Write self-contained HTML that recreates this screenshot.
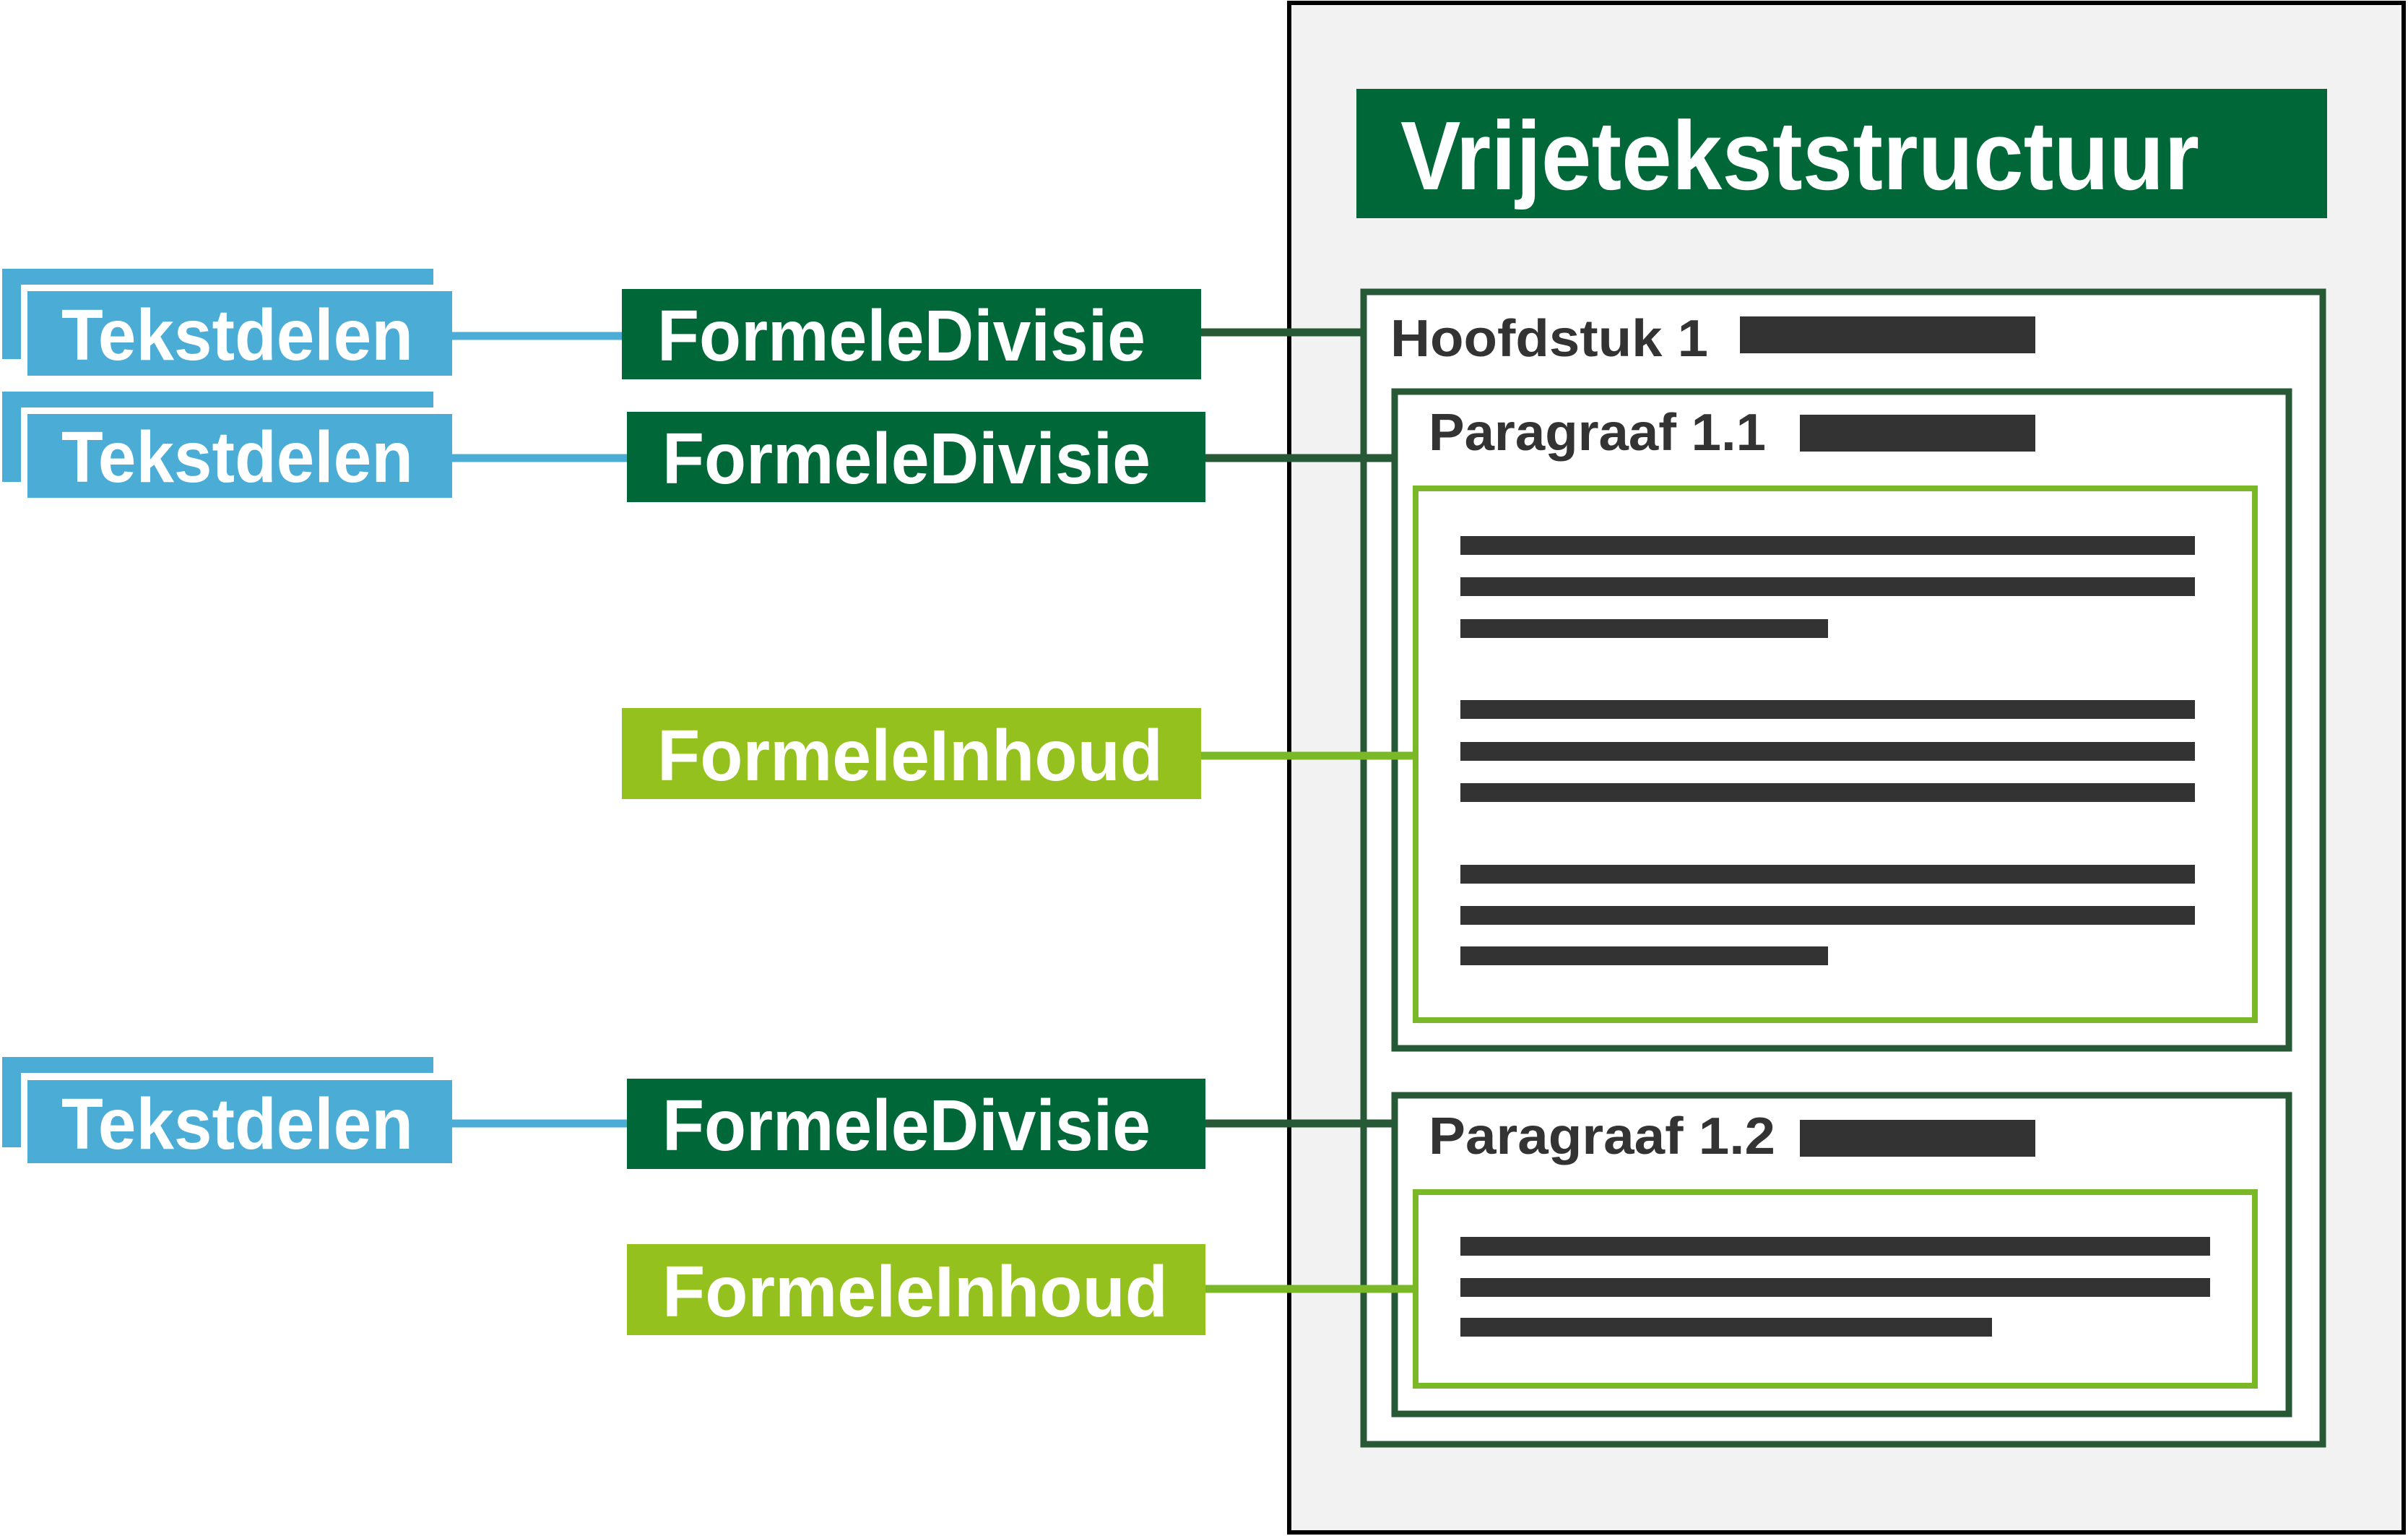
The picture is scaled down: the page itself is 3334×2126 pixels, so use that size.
<!DOCTYPE html>
<html><head><meta charset="utf-8"><style>html,body{margin:0;padding:0;background:#fff}svg{display:block}text{font-family:"Liberation Sans",sans-serif;font-weight:bold}</style></head>
<body>
<svg width="3334" height="2126" viewBox="0 0 3334 2126" xmlns="http://www.w3.org/2000/svg">
<rect x="1785" y="4" width="1543" height="2117" fill="#f2f2f2" stroke="#000" stroke-width="6"/>
<rect x="1878" y="123" width="1344" height="179" fill="#006838"/>
<text x="1939" y="262" font-size="135" fill="#fff" textLength="1106" lengthAdjust="spacingAndGlyphs">Vrijetekststructuur</text>

<rect x="1888" y="404" width="1328" height="1595" fill="#fff" stroke="#275937" stroke-width="9"/>
<text x="1925" y="493" font-size="72" fill="#333" textLength="440" lengthAdjust="spacingAndGlyphs">Hoofdstuk 1</text>
<rect x="2409" y="438" width="409" height="51" fill="#333"/>

<rect x="1931" y="542" width="1238" height="909" fill="#fff" stroke="#275937" stroke-width="9"/>
<text x="1978" y="623" font-size="72" fill="#333" textLength="467" lengthAdjust="spacingAndGlyphs">Paragraaf 1.1</text>
<rect x="2492" y="574" width="326" height="51" fill="#333"/>
<rect x="1960" y="676" width="1162" height="736" fill="#fff" stroke="#7ab828" stroke-width="8"/>
<g fill="#333">
<rect x="2022" y="742" width="1017" height="26"/><rect x="2022" y="799" width="1017" height="26"/><rect x="2022" y="857" width="509" height="26"/>
<rect x="2022" y="969" width="1017" height="26"/><rect x="2022" y="1027" width="1017" height="26"/><rect x="2022" y="1084" width="1017" height="26"/>
<rect x="2022" y="1197" width="1017" height="26"/><rect x="2022" y="1254" width="1017" height="26"/><rect x="2022" y="1310" width="509" height="26"/>
</g>

<rect x="1931" y="1516" width="1238" height="441" fill="#fff" stroke="#275937" stroke-width="9"/>
<text x="1978" y="1597" font-size="72" fill="#333" textLength="480" lengthAdjust="spacingAndGlyphs">Paragraaf 1.2</text>
<rect x="2492" y="1550" width="326" height="51" fill="#333"/>
<rect x="1960" y="1650" width="1162" height="268" fill="#fff" stroke="#7ab828" stroke-width="8"/>
<g fill="#333">
<rect x="2022" y="1712" width="1038" height="26"/><rect x="2022" y="1769" width="1038" height="26"/><rect x="2022" y="1824" width="736" height="26"/>
</g>

<!-- connectors -->
<g stroke-width="11">
<line x1="626" y1="465" x2="862" y2="465" stroke="#4bacd6"/>
<line x1="626" y1="634" x2="869" y2="634" stroke="#4bacd6"/>
<line x1="626" y1="1555" x2="869" y2="1555" stroke="#4bacd6"/>
<line x1="1663" y1="460" x2="1885" y2="460" stroke="#275937"/>
<line x1="1669" y1="634" x2="1928" y2="634" stroke="#275937"/>
<line x1="1669" y1="1555" x2="1928" y2="1555" stroke="#275937"/>
<line x1="1663" y1="1046" x2="1957" y2="1046" stroke="#7ab828"/>
<line x1="1669" y1="1784" x2="1957" y2="1784" stroke="#7ab828"/>
</g>

<!-- Tekstdelen groups -->
<g fill="#4bacd6">
<rect x="3" y="372" width="597" height="22"/><rect x="3" y="372" width="26" height="125"/>
<rect x="38" y="403" width="588" height="117"/>
<rect x="3" y="542" width="597" height="22"/><rect x="3" y="542" width="26" height="125"/>
<rect x="38" y="573" width="588" height="116"/>
<rect x="3" y="1463" width="597" height="22"/><rect x="3" y="1463" width="26" height="125"/>
<rect x="38" y="1495" width="588" height="115"/>
</g>
<g fill="#fff" font-size="100">
<text x="85" y="498" textLength="487" lengthAdjust="spacingAndGlyphs">Tekstdelen</text>
<text x="85" y="667" textLength="487" lengthAdjust="spacingAndGlyphs">Tekstdelen</text>
<text x="85" y="1590" textLength="487" lengthAdjust="spacingAndGlyphs">Tekstdelen</text>
</g>

<rect x="861" y="400" width="802" height="125" fill="#006838"/>
<rect x="868" y="570" width="801" height="125" fill="#006838"/>
<rect x="868" y="1493" width="801" height="125" fill="#006838"/>
<rect x="861" y="980" width="802" height="126" fill="#95c11f"/>
<rect x="868" y="1722" width="801" height="126" fill="#95c11f"/>
<g fill="#fff" font-size="100">
<text x="910" y="499" textLength="676" lengthAdjust="spacingAndGlyphs">FormeleDivisie</text>
<text x="917" y="669" textLength="676" lengthAdjust="spacingAndGlyphs">FormeleDivisie</text>
<text x="917" y="1592" textLength="676" lengthAdjust="spacingAndGlyphs">FormeleDivisie</text>
<text x="910" y="1080" textLength="700" lengthAdjust="spacingAndGlyphs">FormeleInhoud</text>
<text x="917" y="1822" textLength="700" lengthAdjust="spacingAndGlyphs">FormeleInhoud</text>
</g>
</svg>
</body></html>
